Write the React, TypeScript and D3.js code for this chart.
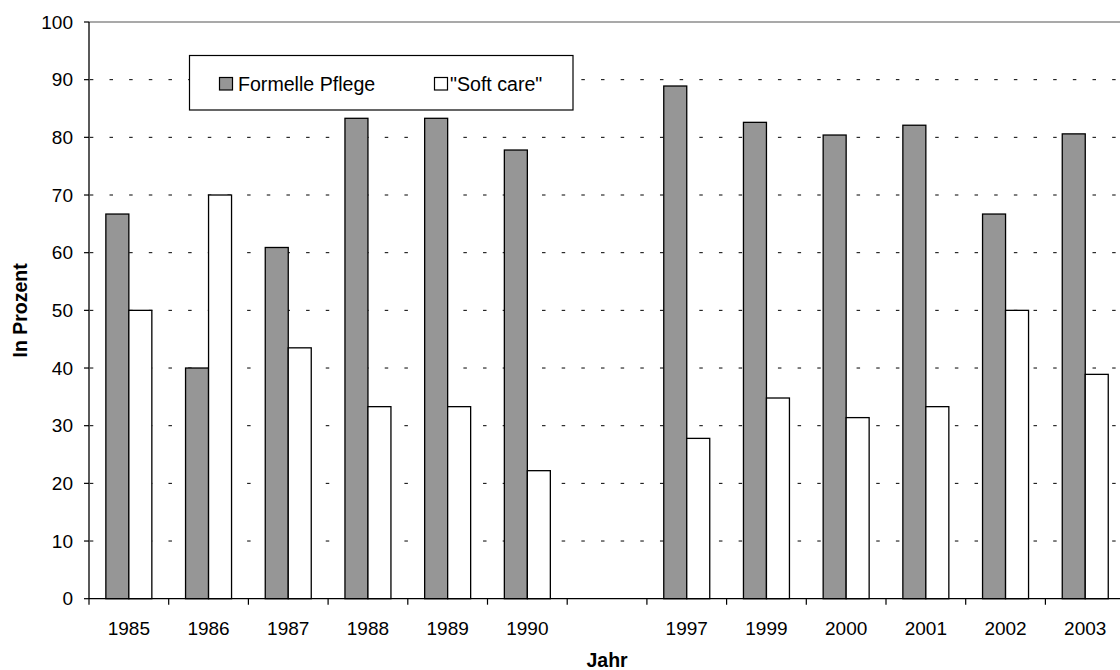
import React from "react";
import * as d3 from "d3";

const categories = ["1985", "1986", "1987", "1988", "1989", "1990", "", "1997", "1999", "2000", "2001", "2002", "2003"];
const formellePflege: (number | null)[] = [66.7, 40, 60.9, 83.3, 83.3, 77.8, null, 88.9, 82.6, 80.4, 82.1, 66.7, 80.6];
const softCare: (number | null)[] = [50, 70, 43.5, 33.3, 33.3, 22.2, null, 27.8, 34.8, 31.4, 33.3, 50, 38.9];
const yTicks = [0, 10, 20, 30, 40, 50, 60, 70, 80, 90, 100];
const seriesNames = ["Formelle Pflege", "\"Soft care\""];

const W = 1120;
const H = 670;
const FONT = "Arial, 'Liberation Sans', sans-serif";

export default function App() {
  const left = 89;
  const band = 79.7;
  const right = left + band * categories.length;
  const top = 22;
  const bottom = 598.7;

  const x = d3.scaleBand<number>().domain(d3.range(categories.length)).range([left, right]).padding(0);
  const inner = d3.scaleBand<string>().domain(["f", "s"]).range([0, x.bandwidth()]).paddingInner(0).paddingOuter(0.733);
  const y = d3.scaleLinear().domain([0, 100]).range([bottom, top]);

  const bars: { key: string; x: number; y: number; w: number; h: number; fill: string }[] = [];
  categories.forEach((c, i) => {
    const f = formellePflege[i];
    const s = softCare[i];
    if (f != null) bars.push({ key: `f${i}`, x: x(i)! + inner("f")!, y: y(f), w: inner.bandwidth(), h: y(0) - y(f), fill: "#969696" });
    if (s != null) bars.push({ key: `s${i}`, x: x(i)! + inner("s")!, y: y(s), w: inner.bandwidth(), h: y(0) - y(s), fill: "#ffffff" });
  });

  return (
    <div style={{ position: "absolute", left: 0, top: 0, width: W, height: H, background: "#fff" }}>
      <svg width={W} height={H} style={{ display: "block", fontFamily: FONT }}>
        <rect x={0} y={0} width={W} height={H} fill="#fff" />
        {/* gridlines */}
        {yTicks.filter((t) => t > 0 && t < 100).map((t) => (
          <line key={`g${t}`} x1={left} x2={right} y1={y(t)} y2={y(t)} stroke="#000" strokeWidth={1}
            strokeDasharray="3.5 16.16" strokeDashoffset={-20.5} />
        ))}
        <line x1={left} x2={right} y1={y(100)} y2={y(100)} stroke="#8c8c8c" strokeWidth={1.5} />
        {/* bars */}
        {bars.map((b) => (
          <rect key={b.key} x={b.x} y={b.y} width={b.w} height={b.h} fill={b.fill} stroke="#000" strokeWidth={1.3} />
        ))}
        {/* y axis */}
        <line x1={left} x2={left} y1={top} y2={bottom} stroke="#000" strokeWidth={1.3} />
        {yTicks.map((t) => (
          <g key={`yt${t}`}>
            <line x1={left - 5} x2={left} y1={y(t)} y2={y(t)} stroke="#000" strokeWidth={1.2} />
            <text x={73} y={y(t)} dy="0.35em" textAnchor="end" fontSize={19} fill="#000">{t}</text>
          </g>
        ))}
        {/* x axis */}
        <line x1={left} x2={right} y1={bottom} y2={bottom} stroke="#000" strokeWidth={1.3} />
        {d3.range(categories.length + 1).map((i) => (
          <line key={`xt${i}`} x1={left + i * x.step()} x2={left + i * x.step()} y1={bottom} y2={bottom + 6} stroke="#000" strokeWidth={1.2} />
        ))}
        {categories.map((c, i) => (
          <text key={`xl${i}`} x={x(i)! + x.bandwidth() / 2} y={634.5} textAnchor="middle" fontSize={19} fill="#000">{c}</text>
        ))}
        {/* axis titles */}
        <text x={(left + right) / 2} y={667} textAnchor="middle" fontSize={19.5} fontWeight="bold" fill="#000">Jahr</text>
        <text transform={`translate(27, ${(top + bottom) / 2}) rotate(-90)`} textAnchor="middle" fontSize={19.5} fontWeight="bold" fill="#000">In Prozent</text>
        {/* legend */}
        <rect x={189.5} y={55.5} width={383.5} height={54.5} fill="#fff" stroke="#000" strokeWidth={1.2} />
        <rect x={219.5} y={77.5} width={13} height={12.5} fill="#969696" stroke="#000" strokeWidth={1.2} />
        <text x={238} y={90.5} fontSize={19.6} fill="#000">{seriesNames[0]}</text>
        <rect x={434.5} y={77.5} width={13} height={12.5} fill="#fff" stroke="#000" strokeWidth={1.2} />
        <text x={450} y={90.5} fontSize={19.6} fill="#000">{seriesNames[1]}</text>
      </svg>
    </div>
  );
}
